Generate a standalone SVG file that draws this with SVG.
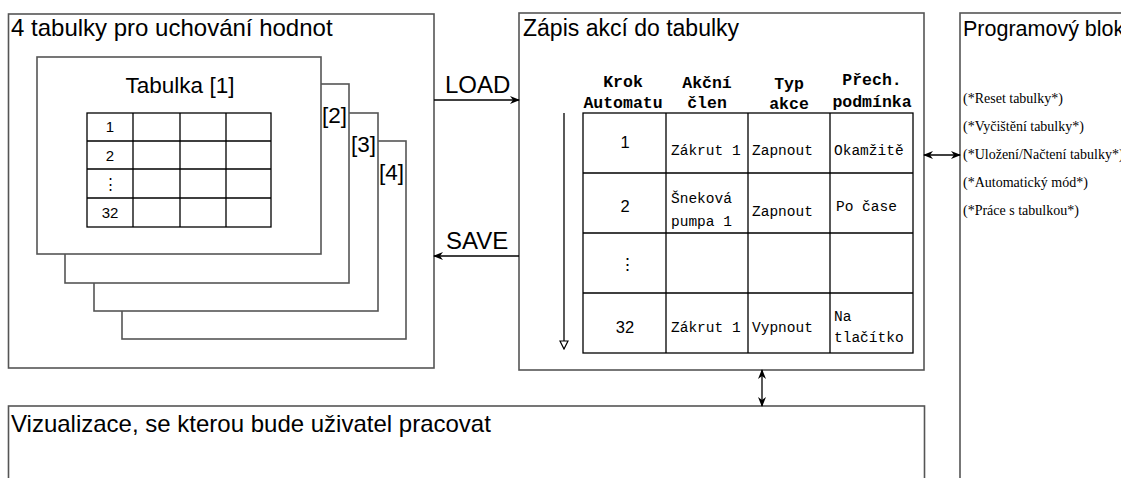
<svg xmlns="http://www.w3.org/2000/svg" width="1121" height="478" viewBox="0 0 1121 478">
<style>
.box{fill:#fff;stroke:#555;stroke-width:1.6}
.grid{fill:none;stroke:#000;stroke-width:1.3}
.sans{font-family:"Liberation Sans",Arial,sans-serif;fill:#000}
.mono{font-family:"Liberation Mono","Courier New",monospace;fill:#000;font-size:14.5px}
.monob{font-family:"Liberation Mono","Courier New",monospace;fill:#000;font-size:16.5px;font-weight:bold;text-anchor:middle}
.serif{font-family:"Liberation Serif","Times New Roman",serif;font-size:14px;fill:#000}
.conn{fill:none;stroke:#000;stroke-width:1.3}
</style>
<defs>
<marker id="arr" viewBox="0 0 10 10" refX="9" refY="5" markerWidth="10" markerHeight="10" markerUnits="userSpaceOnUse" orient="auto-start-reverse">
<path d="M0,1 L10,5 L0,9 L3,5 Z" fill="#000"/>
</marker>
<marker id="open" viewBox="0 0 10 10" refX="9" refY="5" markerWidth="10" markerHeight="10" markerUnits="userSpaceOnUse" orient="auto">
<path d="M1,1 L9,5 L1,9 Z" fill="#fff" stroke="#000" stroke-width="1.2"/>
</marker>
</defs>
<rect width="1121" height="478" fill="#fff"/>

<g id="storage">
<rect class="box" x="8.5" y="14" width="425.5" height="354"/>
<text class="sans" x="11" y="36" font-size="24">4 tabulky pro uchování hodnot</text>
<g id="table4">
<rect class="box" x="122" y="141" width="284" height="198"/>
<text class="sans" x="379" y="180" font-size="22.5">[4]</text>
</g>
<g id="table3">
<rect class="box" x="94" y="113" width="284" height="198"/>
<text class="sans" x="351" y="152" font-size="22.5">[3]</text>
</g>
<g id="table2">
<rect class="box" x="65" y="84" width="284" height="199"/>
<text class="sans" x="322" y="123" font-size="22.5">[2]</text>
</g>
<g id="table1">
<rect class="box" x="37" y="57" width="284" height="197"/>
<text class="sans" x="180" y="93" font-size="22.5" text-anchor="middle">Tabulka [1]</text>
<rect class="grid" x="87" y="113" width="184" height="114"/>
<path class="grid" d="M133,113V227M180,113V227M226,113V227M87,141H271M87,169H271M87,198H271"/>
<g class="sans" font-size="15" text-anchor="middle">
<text x="110" y="132">1</text>
<text x="110" y="161">2</text>
<text x="110" y="189">⋮</text>
<text x="110" y="218">32</text>
</g>
</g>
</g>

<g id="editor">
<rect class="box" x="519" y="13" width="405" height="357"/>
<text class="sans" x="523" y="36" font-size="23">Zápis akcí do tabulky</text>
<g class="monob">
<text x="623" y="87">Krok</text>
<text x="623" y="108">Automatu</text>
<text x="707" y="88">Akční</text>
<text x="707" y="108">člen</text>
<text x="789" y="89">Typ</text>
<text x="789" y="109">akce</text>
<text x="872" y="85">Přech.</text>
<text x="872" y="107">podmínka</text>
</g>
<rect class="grid" x="583" y="113" width="330" height="240"/>
<path class="grid" d="M666,113V353M748,113V353M830,113V353M583,173H913M583,233H913M583,293H913"/>
<g class="sans" font-size="16.5" text-anchor="middle">
<text x="625" y="148">1</text>
<text x="625" y="212">2</text>
<text x="627" y="270">⋮</text>
<text x="625" y="333">32</text>
</g>
<g class="mono">
<text x="671" y="155">Zákrut 1</text>
<text x="752" y="155">Zapnout</text>
<text x="834" y="155">Okamžitě</text>
<text x="671" y="203">Šneková</text>
<text x="671" y="226">pumpa 1</text>
<text x="752" y="216">Zapnout</text>
<text x="836" y="211">Po čase</text>
<text x="671" y="332">Zákrut 1</text>
<text x="752" y="332">Vypnout</text>
<text x="834" y="321">Na</text>
<text x="834" y="342">tlačítko</text>
</g>
<line class="conn" x1="564" y1="113" x2="564" y2="349" marker-end="url(#open)"/>
</g>

<g id="program">
<rect class="box" x="960" y="13" width="170" height="480"/>
<text class="sans" x="963" y="36" font-size="21.5">Programový blok</text>
<g class="serif">
<text x="963" y="103">(*Reset tabulky*)</text>
<text x="963" y="131">(*Vyčištění tabulky*)</text>
<text x="963" y="159">(*Uložení/Načtení tabulky*)</text>
<text x="963" y="187">(*Automatický mód*)</text>
<text x="963" y="215">(*Práce s tabulkou*)</text>
</g>
</g>

<g id="visualization">
<rect class="box" x="8.5" y="406" width="916" height="100"/>
<text class="sans" x="11" y="432" font-size="24">Vizualizace, se kterou bude uživatel pracovat</text>
</g>

<g id="connectors">
<line class="conn" x1="434" y1="100" x2="519" y2="100" marker-end="url(#arr)"/>
<text class="sans" x="445" y="93" font-size="24">LOAD</text>
<line class="conn" x1="519" y1="256" x2="434" y2="256" marker-end="url(#arr)"/>
<text class="sans" x="446" y="249" font-size="24">SAVE</text>
<line class="conn" x1="924" y1="155" x2="960" y2="155" marker-start="url(#arr)" marker-end="url(#arr)"/>
<line class="conn" x1="762" y1="370" x2="762" y2="406" marker-start="url(#arr)" marker-end="url(#arr)"/>
</g>
</svg>
